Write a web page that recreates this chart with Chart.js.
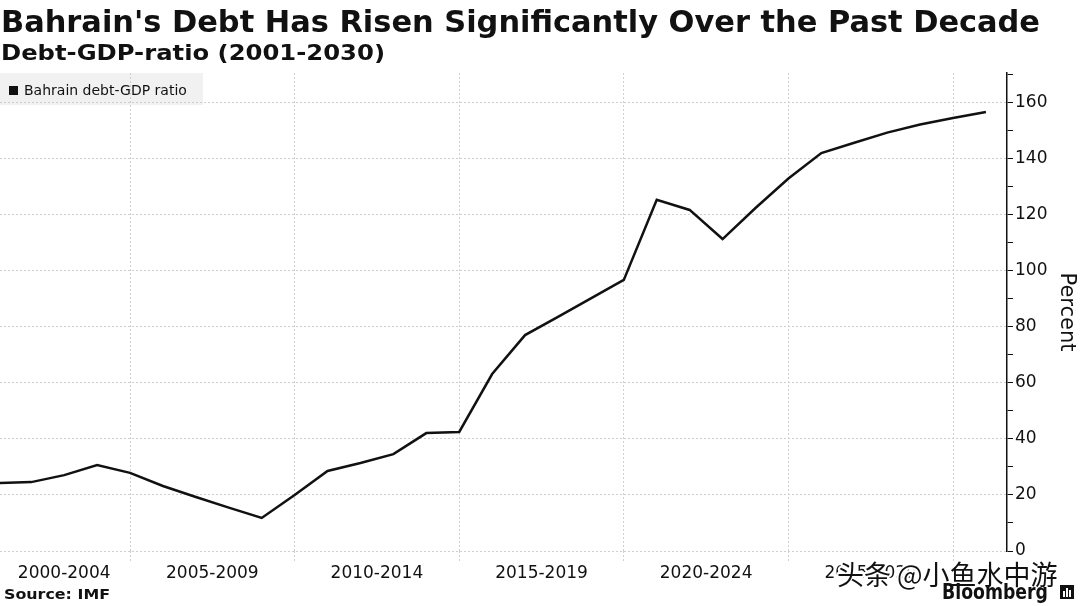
<!DOCTYPE html>
<html>
<head>
<meta charset="utf-8">
<title>Bahrain debt-GDP ratio</title>
<script src="https://cdn.jsdelivr.net/npm/chart.js@4.4.1/dist/chart.umd.min.js"></script>
<style>
    html, body { margin: 0; padding: 0; background: #fff; }
    #wrap { width: 1080px; height: 606px; }
</style>
</head>
<body>
<div id="wrap"><canvas id="mainChart" width="1080" height="606"></canvas></div>
<script>
/**
 * Data (IMF source)
 */
const years = [2000, 2001, 2002, 2003, 2004, 2005, 2006, 2007, 2008, 2009,
               2010, 2011, 2012, 2013, 2014, 2015, 2016, 2017, 2018, 2019,
               2020, 2021, 2022, 2023, 2024, 2025, 2026, 2027, 2028, 2029, 2030]
const debtRatio = [24.3, 24.6, 27.1, 30.7, 27.9, 23.2, 19.3, 15.5, 11.8, 20.0,
                   28.6, 31.4, 34.6, 42.1, 42.5, 63.2, 77.1, 83.6, 90.2, 96.8,
                   125.4, 121.8, 111.4, 122.5, 133.0, 142.1, 145.8, 149.4, 152.3, 154.6, 156.8]
const periodLabels = ["2000-2004", "2005-2009", "2010-2014", "2015-2019", "2020-2024", "2025-2029"]
const yTickValues = [0, 10, 20, 30, 40, 50, 60, 70, 80, 90, 100, 110, 120, 130, 140, 150, 160, 170]

const seriesLabel = "Bahrain debt-GDP ratio"
const titleText = "Bahrain's Debt Has Risen Significantly Over the Past Decade"
const subtitleText = "Debt-GDP-ratio (2001-2030)"
const sourceText = "Source: IMF"
const watermarkText = "头条 @小鱼水中游"

/**
 * Axis helpers
 */
const xMin = 2000.05
const xMax = 2030.64
// annual points sit at year end, so a block boundary is the last year of the block
const boundaryTicks = periodLabels.map(p => parseInt(p.split('-')[1]))
const labelTicks = periodLabels.map(p => Math.max(parseInt(p.split('-')[0]) + 1.5, xMin + 1.95))
const xTickValues = boundaryTicks.concat(labelTicks).sort((a, b) => a - b)

const FONT = "'DejaVu Sans', Verdana, sans-serif"
const INK = "#111"
const GRID = "#cfcfcf"
const CLEAR = "rgba(0,0,0,0)"

function drawFitted(ctx, text, x, y, font, width) {
    ctx.font = font
    const sx = width / ctx.measureText(text).width
    ctx.save()
    ctx.translate(x, y)
    ctx.scale(sx, 1)
    ctx.fillText(text, 0, 0)
    ctx.restore()
}

const decorations = {
    id: 'decorations',
    beforeDraw(chart) {
        const ctx = chart.ctx
        const area = chart.chartArea
        ctx.save()
        ctx.fillStyle = "#fff"
        ctx.fillRect(0, 0, chart.width, chart.height)

        ctx.fillStyle = INK
        ctx.textBaseline = "alphabetic"
        ctx.textAlign = "left"
        drawFitted(ctx, titleText, 1, 32, "bold 31px " + FONT, 1039)
        drawFitted(ctx, subtitleText, 1, 60, "bold 21.5px " + FONT, 384)

        // legend box sits inside the plot, top-left
        ctx.fillStyle = "#f1f1f1"
        ctx.fillRect(area.left, area.top, 203, 32)
        ctx.fillStyle = INK
        ctx.fillRect(area.left + 9, area.top + 13, 9, 9)
        ctx.font = "14px " + FONT
        ctx.fillText(chart.data.datasets[0].label, area.left + 24, area.top + 22)
        ctx.restore()
    },
    afterDraw(chart) {
        const ctx = chart.ctx
        ctx.save()
        ctx.fillStyle = INK
        ctx.textBaseline = "alphabetic"
        drawFitted(ctx, sourceText, 4, 599, "bold 14.5px " + FONT, 106)

        // watermark over the last period label
        ctx.font = "27px 'Noto Sans CJK SC', sans-serif"
        ctx.lineWidth = 4
        ctx.strokeStyle = "#fff"
        ctx.lineJoin = "round"
        ctx.strokeText(watermarkText, 837, 585)
        ctx.fillStyle = INK
        ctx.fillText(watermarkText, 837, 585)

        // Bloomberg mark
        ctx.fillStyle = INK
        drawFitted(ctx, "Bloomberg", 942, 599, "bold 21px " + FONT, 106)
        ctx.fillRect(1060, 585, 14, 14)
        ctx.fillStyle = "#fff"
        ctx.fillRect(1063, 591, 2, 6)
        ctx.fillRect(1066, 588, 2, 9)
        ctx.fillRect(1069, 590, 2, 7)
        ctx.restore()
    }
}

/**
 * Chart
 */
const ctx = document.getElementById("mainChart").getContext("2d")
window.myChart = new Chart(ctx, {
    type: 'line',
    data: {
        datasets: [{
            label: seriesLabel,
            data: years.map((yr, i) => ({ x: yr, y: debtRatio[i] })),
            borderColor: INK,
            borderWidth: 2.5,
            pointRadius: 0,
            fill: false,
            tension: 0
        }]
    },
    options: {
        responsive: false,
        animation: false,
        devicePixelRatio: 1,
        layout: { padding: { top: 73, left: 0, right: 0, bottom: 0 } },
        plugins: {
            legend: { display: false },
            tooltip: { enabled: false }
        },
        scales: {
            x: {
                type: 'linear',
                min: xMin,
                max: xMax,
                afterBuildTicks: axis => { axis.ticks = xTickValues.map(v => ({ value: v })) },
                afterFit: axis => { axis.height = 55 },
                grid: {
                    color: c => c.tick && boundaryTicks.includes(c.tick.value) ? GRID : CLEAR,
                    tickColor: c => c.tick && boundaryTicks.includes(c.tick.value) ? GRID : CLEAR,
                    tickLength: 10,
                    tickBorderDash: [2, 2],
                    lineWidth: 1
                },
                border: { display: false, dash: [2, 2] },
                ticks: {
                    autoSkip: false,
                    maxRotation: 0,
                    padding: 2,
                    color: INK,
                    font: { family: FONT, size: 17 },
                    callback: value => {
                        const i = labelTicks.indexOf(value)
                        return i >= 0 ? periodLabels[i] : ''
                    }
                }
            },
            y: {
                position: 'right',
                min: 0,
                max: 170.7,
                afterBuildTicks: axis => { axis.ticks = yTickValues.map(v => ({ value: v })) },
                afterFit: axis => { axis.width = 73 },
                grid: {
                    color: c => c.tick && c.tick.value % 20 === 0 ? GRID : CLEAR,
                    tickColor: INK,
                    tickLength: 6,
                    lineWidth: 1
                },
                border: { display: true, color: INK, width: 1.5, dash: [2, 2] },
                ticks: {
                    padding: 2,
                    color: INK,
                    font: { family: FONT, size: 17 },
                    callback: value => value % 20 === 0 ? value : ''
                },
                title: {
                    display: true,
                    text: 'Percent',
                    color: INK,
                    font: { family: FONT, size: 21 },
                    padding: { top: 1, bottom: 0 }
                }
            }
        }
    },
    plugins: [decorations]
})
</script>
</body>
</html>
